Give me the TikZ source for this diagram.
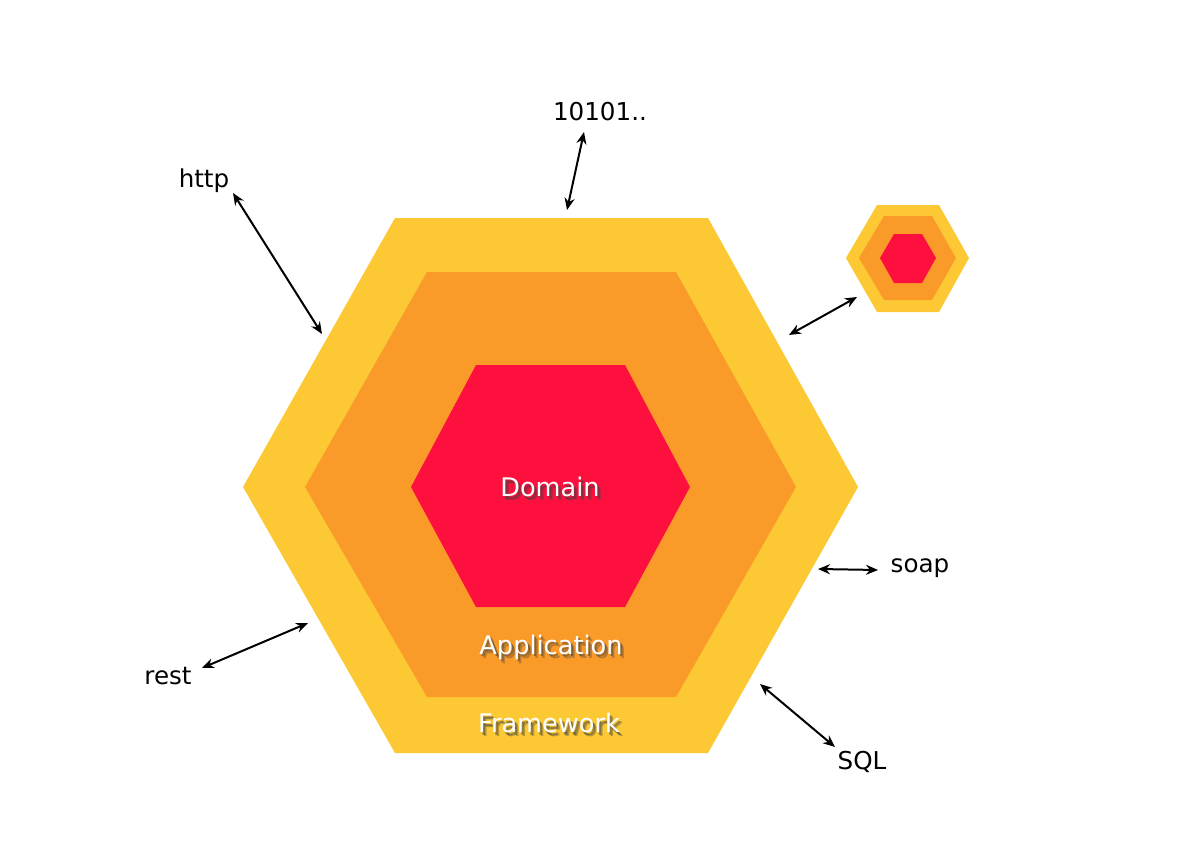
\documentclass[tikz,border=0pt]{standalone}
\usepackage{fontspec}
\setmainfont{DejaVu Sans}
\usetikzlibrary{arrows.meta,calc}
\definecolor{hyel}{HTML}{FCC833}
\definecolor{hora}{HTML}{F99A29}
\definecolor{hred}{HTML}{FE103E}
\tikzset{
 lbl/.style={font=\fontsize{12.3}{14}\selectfont, text=black},
 inlbl/.style={font=\fontsize{12.8}{15}\selectfont, text=white},
 link/.style={{Stealth[length=6pt,width=5pt]}-{Stealth[length=6pt,width=5pt]}, line width=1pt, black}
}
\newcommand{\shlabel}[3]{%
 \node[inlbl,text=black!75,opacity=0.5] at ($(#1)+(2,2.5)$) {#3};
 \node[inlbl,text=black!75,opacity=0.35] at ($(#1)+(3.5,4)$) {#3};
 \node[inlbl] (#2) at (#1) {#3};}
\begin{document}
\begin{tikzpicture}[x=0.5pt,y=-0.5pt]
\useasboundingbox (0,0) rectangle (1200,856);
\fill[white] (0,0) rectangle (1200,856);
% main hexagon
\fill[hyel] (243,487)--(395,218)--(708,218)--(858,487)--(708,753)--(395,753)--cycle;
\fill[hora] (305,487)--(427,272)--(676,272)--(796,487)--(676,697)--(427,697)--cycle;
\fill[hred] (411,487)--(476,365)--(625,365)--(690,487)--(625,607)--(476,607)--cycle;
% small hexagon
\fill[hyel] (846,258)--(877,205)--(939,205)--(969,258)--(939,312)--(877,312)--cycle;
\fill[hora] (859,258)--(884,216)--(932,216)--(956,258)--(932,300)--(884,300)--cycle;
\fill[hred] (880,258)--(894,234)--(922,234)--(936,258)--(922,283)--(894,283)--cycle;
% inner labels
\coordinate (pd) at (550,487);
\coordinate (pa) at (551,647);
\coordinate (pf) at (549,723);
\shlabel{pd}{domain}{Domain}
\shlabel{pa}{application}{Application}
\shlabel{pf}{framework}{Framework}
% outer labels
\node[lbl] (http) at (204,181) {http};
\node[lbl] (bin) at (600,112) {10101..};
\node[lbl] (soap) at (920,568) {soap};
\node[lbl] (sql) at (862,762) {SQL};
\node[lbl] (rest) at (168,676) {rest};
% arrow endpoints
\coordinate (h1) at (233,193); \coordinate (h2) at (322,334);
\coordinate (b1) at (584,132); \coordinate (b2) at (567,210);
\coordinate (s1) at (857,297); \coordinate (s2) at (789,335);
\coordinate (o1) at (818,569); \coordinate (o2) at (878,570);
\coordinate (q1) at (760,684); \coordinate (q2) at (835,747);
\coordinate (r1) at (308,623); \coordinate (r2) at (202,668);
\draw[link] (h1)--(h2);
\draw[link] (b1)--(b2);
\draw[link] (s1)--(s2);
\draw[link] (o1)--(o2);
\draw[link] (q1)--(q2);
\draw[link] (r1)--(r2);
\end{tikzpicture}
\end{document}
